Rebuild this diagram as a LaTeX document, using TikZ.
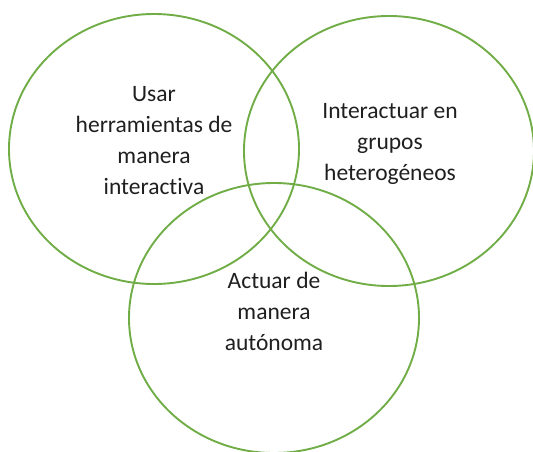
\documentclass[tikz,border=0pt]{standalone}
\usepackage{fontspec}
\setmainfont{Carlito}[Ligatures={NoCommon,NoContextual}]
\usetikzlibrary{shapes.geometric}
\definecolor{vgreen}{RGB}{112,173,71}
\begin{document}
\begin{tikzpicture}[x=1pt,y=-1pt,
  ring/.style={ellipse, draw=vgreen, line width=1.9pt, minimum width=290pt, minimum height=270pt, inner sep=0pt},
  lbl/.style={align=center, font=\fontsize{23.5}{31}\selectfont, text=black!88, inner sep=0pt}]
\useasboundingbox (0,0) rectangle (533,451);
\node[ring] (c1) at (154,149) {};
\node[ring] (c2) at (389,151) {};
\node[ring] (c3) at (274,318) {};
\node[lbl] (t1) at (154,141) {Usar\\herramientas de\\manera\\interactiva};
\node[lbl] (t2) at (390,144) {Interactuar en\\grupos\\heterogéneos};
\node[lbl] (t3) at (274,311) {Actuar de\\manera\\autónoma};
\end{tikzpicture}
\end{document}
